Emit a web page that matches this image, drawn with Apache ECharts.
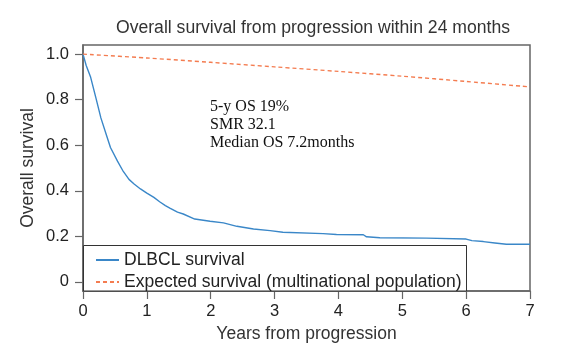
<!DOCTYPE html>
<html>
<head>
<meta charset="utf-8">
<script src="https://cdn.jsdelivr.net/npm/echarts@6/dist/echarts.min.js"></script>
<style>html,body{margin:0;padding:0;background:#fff}#c{width:568px;height:356px}</style>
</head>
<body>
<div id="c"></div>
<script>
// DLBCL survival (years, survival probability)
const dlbclYears = [0, 0.05, 0.12, 0.2, 0.28, 0.36, 0.43, 0.54, 0.62, 0.72, 0.8, 0.9, 1.0, 1.11, 1.2, 1.29, 1.36, 1.48, 1.57, 1.75, 1.99, 2.2, 2.41, 2.67, 2.93, 3.13, 3.16, 3.76, 3.97, 4.39, 4.44, 4.65, 5.38, 6.0, 6.09, 6.27, 6.45, 6.63, 7.0];
const dlbclSurv = [1.0, 0.95, 0.898, 0.81, 0.72, 0.65, 0.59, 0.53, 0.49, 0.45, 0.43, 0.408, 0.39, 0.371, 0.352, 0.335, 0.324, 0.306, 0.298, 0.276, 0.266, 0.259, 0.244, 0.232, 0.225, 0.218, 0.212, 0.212, 0.208, 0.207, 0.198, 0.194, 0.192, 0.188, 0.181, 0.177, 0.171, 0.165, 0.165];
// Expected survival (multinational population)
const expYears = [0, 1, 2, 3, 4, 5, 6, 7];
const expSurv = [1.0, 0.983, 0.964, 0.944, 0.924, 0.903, 0.880, 0.856];
const yTicks = [0, 0.2, 0.4, 0.6, 0.8, 1.0];
const annotation = ['5-y OS 19%', 'SMR 32.1', 'Median OS 7.2months'];
const seriesNames = ['DLBCL survival', 'Expected survival (multinational population)'];

const chart = echarts.init(document.getElementById('c'), null, {renderer: 'canvas'});
const font = 'Liberation Sans, Arial, Helvetica, sans-serif';
chart.setOption({
  animation: false,
  title: {
    text: 'Overall survival from progression within 24 months',
    left: 308, top: 14, textAlign: 'center',
    textStyle: {fontFamily: font, fontSize: 17.6, fontWeight: 'normal', color: '#333'}
  },
  grid: {left: 83, right: 38, top: 45, bottom: 65, show: true, borderColor: '#666', borderWidth: 1.5, backgroundColor: 'transparent'},
  xAxis: {
    type: 'value', min: 0, max: 7, interval: 1,
    name: 'Years from progression', nameLocation: 'middle', nameGap: 32,
    nameTextStyle: {fontFamily: font, fontSize: 17.5, color: '#333'},
    axisLine: {show: true, onZero: false, lineStyle: {color: '#666', width: 1.5}},
    axisTick: {show: true, length: 8, lineStyle: {color: '#666', width: 1.2}},
    axisLabel: {fontFamily: font, fontSize: 16.5, color: '#222', margin: 12},
    splitLine: {show: false}
  },
  yAxis: {
    type: 'value', min: -0.04, max: 1.04,
    name: 'Overall survival', nameLocation: 'middle', nameGap: 46, nameMoveOverlap: false,
    nameTextStyle: {fontFamily: font, fontSize: 17.5, color: '#333'},
    axisLine: {show: true, lineStyle: {color: '#666', width: 1.5}},
    axisTick: {show: true, length: 8, customValues: yTicks, lineStyle: {color: '#666', width: 1.2}},
    axisLabel: {fontFamily: font, fontSize: 16.5, color: '#222', margin: 14, customValues: yTicks,
      formatter: v => (Math.abs(v) < 1e-9 ? '0' : v.toFixed(1))},
    splitLine: {show: false}
  },
  legend: {
    orient: 'vertical', left: 90, top: 246, itemWidth: 23, itemHeight: 16, itemGap: 4, itemTextGap: 6,
    itemStyle: {opacity: 0},
    textStyle: {fontFamily: font, fontSize: 17.5, color: '#222'},
    data: seriesNames, z: 10
  },
  graphic: [
    {type: 'rect', z: 5, shape: {x: 83.5, y: 245.5, width: 383, height: 45.5},
      style: {fill: '#fff', stroke: '#333', lineWidth: 1}},
    {type: 'text', z: 6, left: 210, top: 98,
      style: {text: annotation.join('\n'), fontFamily: 'Liberation Serif, Times New Roman, serif', fontSize: 16, lineHeight: 18, fill: '#111'}}
  ],
  series: [
    {name: seriesNames[0], type: 'line', symbol: 'none', data: dlbclYears.map((t, i) => [t, dlbclSurv[i]]),
      lineStyle: {color: '#3a87c8', width: 1.4}, itemStyle: {color: '#3a87c8'}, z: 3},
    {name: seriesNames[1], type: 'line', symbol: 'none', smooth: 0.3, data: expYears.map((t, i) => [t, expSurv[i]]),
      lineStyle: {color: '#f47c50', width: 1.4, type: [4, 3]}, itemStyle: {color: '#f47c50'}, z: 3}
  ]
});
</script>
</body>
</html>
